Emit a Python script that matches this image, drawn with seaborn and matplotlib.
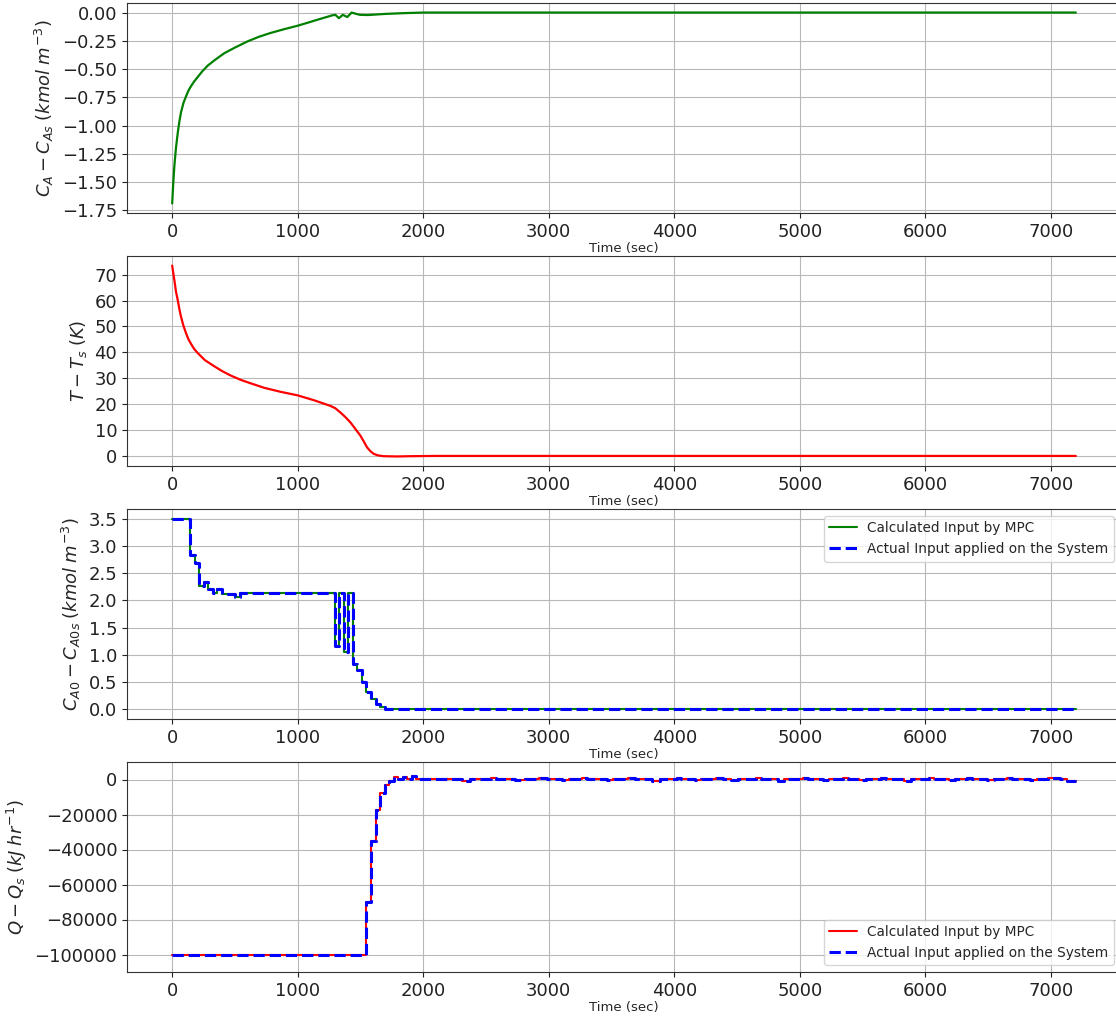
import numpy as np
import pandas as pd
import seaborn as sns
import matplotlib
matplotlib.use("Agg")
import matplotlib.pyplot as plt

# ---------------- data ----------------
ca_t = [0, 9, 18, 30, 45, 58, 71, 90, 111, 130, 151, 175, 204, 240, 283, 340, 415, 500, 601, 690,
        786, 890, 998, 1080, 1156, 1220, 1275,
        1300, 1328, 1360, 1395, 1430, 1460, 1495, 1560, 1700, 1850, 2000, 3000, 5000, 7200]
ca_v = [-1.69, -1.50, -1.35, -1.20, -1.06, -0.96, -0.88, -0.80, -0.74, -0.69, -0.65, -0.61, -0.57,
        -0.52, -0.47, -0.42, -0.36, -0.31, -0.255, -0.215,
        -0.18, -0.148, -0.117, -0.09, -0.064, -0.043, -0.025,
        -0.02, -0.05, -0.02, -0.04, 0.0, -0.01, -0.02, -0.022, -0.012, -0.005, 0.0, 0.0, 0.0, 0.0]

tt_t = [0, 9, 18, 30, 45, 58, 71, 90, 111, 130, 151, 175, 204, 260, 336, 400, 468, 550, 640, 733,
        860, 998, 1130, 1220, 1262, 1300, 1342, 1380, 1421, 1460, 1500, 1530, 1553, 1580, 1606,
        1640, 1685, 1791, 1900, 2100, 3000, 5000, 7200]
tt_v = [73.5, 70.5, 67.7, 63.5, 60.0, 56.5, 53.6, 50.2, 47.3, 45.0, 43.2, 41.3, 39.7, 37.0, 34.6,
        32.7, 31.0, 29.3, 27.8, 26.3,
        24.8, 23.4, 21.5, 20.0, 19.3, 18.4, 16.7, 15.0, 12.9, 10.4, 7.8, 5.3, 3.3, 1.8, 0.8,
        0.2, -0.1, -0.2, -0.1, 0.0, 0.0, 0.0, 0.0]

ca0_t = [0, 144, 180, 216, 252, 288, 324, 360, 396, 504, 540, 1296, 1332, 1368, 1404, 1440,
         1476, 1512, 1548, 1584, 1620, 1656, 1692, 7200]
ca0_v = [3.5, 2.83, 2.69, 2.26, 2.33, 2.20, 2.14, 2.20, 2.12, 2.07, 2.13, 1.16, 2.13, 1.05, 2.13, 0.84,
         0.72, 0.50, 0.32, 0.20, 0.10, 0.04, 0.0, 0.0]

q_t = [0, 1548, 1584, 1620, 1656, 1692, 1728, 1764, 1800, 1836, 1872, 1908, 1944,
       2312, 2370, 2537, 2577, 2735, 2815, 2921, 2987, 3106, 3159, 3265, 3304,
       3463, 3516, 3635, 3688, 3820, 3886, 4019, 4058, 4164, 4217, 4336, 4389,
       4455, 4508, 4654, 4693, 4825, 4878, 5024, 5063, 5183, 5236, 5341, 5381,
       5474, 5526, 5646, 5685, 5831, 5884, 6029, 6069, 6188, 6241, 6334, 6373,
       6493, 6545, 6651, 6691, 6836, 6889, 6982, 7075, 7127, 7200]
q_v = [-100000, -70000, -35000, -17600, -7600, -3400, -950, 1300, 400, 1700, 400, 1900, 400,
       -800, 100, 800, 200, -500, 200, 800, 200, -500, 200, 700, 300,
       -500, 200, 700, 200, -600, 200, 700, 200, -500, 200, 700, 200,
       -500, 200, 700, 200, -600, 200, 700, 200, -500, 200, 700, 200,
       -500, 200, 700, 200, -600, 200, 800, 200, -500, 200, 800, 200,
       -500, 200, 700, 200, -500, 200, 800, 200, -800, -800]

x_ticks = [0, 1000, 2000, 3000, 4000, 5000, 6000, 7000]
ylabels = [r'$C_A - C_{As}\;(kmol\;m^{-3})$', r'$T - T_s\;(K)$',
           r'$C_{A0} - C_{A0s}\;(kmol\;m^{-3})$', r'$Q - Q_s\;(kJ\;hr^{-1})$']
legend_labels = ["Calculated Input by MPC", "Actual Input applied on the System"]

# ---------------- style ----------------
sns.set_theme(style="ticks", rc={
    "axes.grid": True, "grid.color": "#b8b8b8", "grid.linewidth": 0.8,
    "axes.edgecolor": "#333333", "axes.linewidth": 0.8,
    "xtick.color": "#222222", "ytick.color": "#222222",
})
plt.rcParams['font.family'] = ['DejaVu Sans']
plt.rcParams['mathtext.fontset'] = 'dejavusans'
plt.rcParams['axes.unicode_minus'] = True

fig = plt.figure(figsize=(11.16, 10.17), dpi=100)
W, H = 1116, 1017
left = 127 / W
width = 994 / W
tops = [3, 256, 509, 762]
h = 210
axes = [fig.add_axes([left, 1 - (t + h) / H, width, h / H]) for t in tops]

ax1, ax2, ax3, ax4 = axes

sns.lineplot(x=ca_t, y=ca_v, ax=ax1, color="green", linewidth=1.6, estimator=None)
sns.lineplot(x=tt_t, y=tt_v, ax=ax2, color="red", linewidth=1.6, estimator=None)

sns.lineplot(x=ca0_t, y=ca0_v, ax=ax3, color="green", linewidth=1.5, estimator=None,
             drawstyle="steps-post", label=legend_labels[0])
sns.lineplot(x=ca0_t, y=ca0_v, ax=ax3, color="blue", linewidth=2.2, estimator=None,
             drawstyle="steps-post", linestyle="--", label=legend_labels[1])

sns.lineplot(x=q_t, y=q_v, ax=ax4, color="red", linewidth=1.5, estimator=None,
             drawstyle="steps-post", label=legend_labels[0])
sns.lineplot(x=q_t, y=q_v, ax=ax4, color="blue", linewidth=2.2, estimator=None,
             drawstyle="steps-post", linestyle="--", label=legend_labels[1])

ax1.set_yticks([0.0, -0.25, -0.5, -0.75, -1.0, -1.25, -1.5, -1.75])
ax2.set_yticks([0, 10, 20, 30, 40, 50, 60, 70])
ax3.set_yticks([0.0, 0.5, 1.0, 1.5, 2.0, 2.5, 3.0, 3.5])
ax4.set_yticks([0, -20000, -40000, -60000, -80000, -100000])
ax4.set_ylim(-110000, 10000)

for ax, yl in zip(axes, ylabels):
    ax.set_xlim(-360, 7560)
    ax.set_xticks(x_ticks)
    ax.tick_params(axis="both", labelsize=13, length=3.5, width=0.8)
    ax.set_xlabel("Time (sec)", fontsize=9.5, labelpad=1)
    ax.set_ylabel(yl, fontsize=13)
    ax.grid(True, color="#b8b8b8", linewidth=0.8)
    for s in ax.spines.values():
        s.set_visible(True)

ax3.legend(loc="upper right", fontsize=9.8)
ax4.legend(loc="lower right", fontsize=9.8)
ax1.get_legend() and ax1.get_legend().remove()
ax2.get_legend() and ax2.get_legend().remove()

fig.savefig("out.png", dpi=100)
